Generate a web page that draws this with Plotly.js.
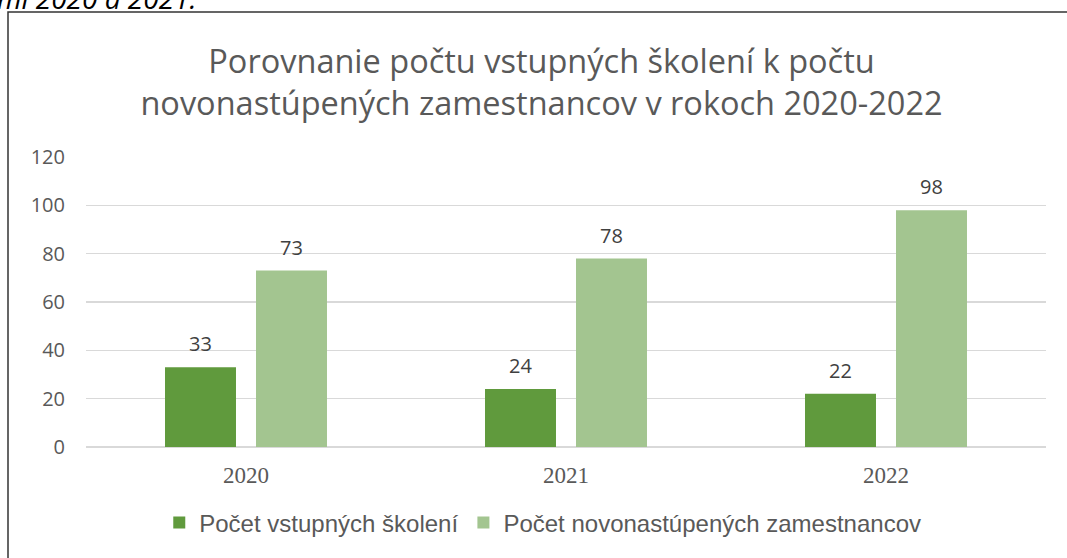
<!DOCTYPE html>
<html>
<head>
<meta charset="utf-8">
<script src="https://cdn.plot.ly/plotly-3.0.1.min.js"></script>
<style>html,body{margin:0;padding:0;background:#fff;}#chart{width:1067px;height:558px;}</style>
</head>
<body>
<div id="chart"></div>
<script>
const years = ['2020', '2021', '2022'];
const seriesNames = ['Počet vstupných školení', 'Počet novonastúpených zamestnancov'];
const trainings = [33, 24, 22];
const newEmployees = [73, 78, 98];
const yTicks = [0, 20, 40, 60, 80, 100, 120];
const titleText = 'Porovnanie počtu vstupných školení k počtu<br>novonastúpených zamestnancov v rokoch 2020-2022';
const captionText = 'mi 2020 a 2021.';

const darkGreen = '#609a3d';
const lightGreen = '#a3c590';

const traces = [
  {type: 'bar', name: seriesNames[0], x: years, y: trainings, marker: {color: darkGreen}, hoverinfo: 'none'},
  {type: 'bar', name: seriesNames[1], x: years, y: newEmployees, marker: {color: lightGreen}, hoverinfo: 'none'}
];

const labelFont = {family: 'Open Sans, sans-serif', size: 20, color: '#404040'};
const annotations = [];
[trainings, newEmployees].forEach((vals, si) => {
  vals.forEach((v, i) => {
    annotations.push({
      x: i, y: v, xref: 'x', yref: 'y', text: String(v), showarrow: false,
      xanchor: 'center', yanchor: 'bottom', xshift: si === 0 ? -45.5 : 45.5, yshift: 8,
      font: labelFont
    });
  });
});
annotations.push({
  x: -0.095, y: 1.476, xref: 'paper', yref: 'paper', xanchor: 'left', yanchor: 'bottom',
  text: '<i>' + captionText + '</i>', showarrow: false,
  font: {family: 'Open Sans, sans-serif', size: 28, color: '#000'}
});

const layout = {
  width: 1067, height: 558,
  margin: {l: 86, r: 21, t: 157, b: 111},
  paper_bgcolor: '#fff', plot_bgcolor: '#fff',
  title: {
    text: titleText,
    font: {family: 'Open Sans, sans-serif', size: 32.5, color: '#595959'},
    x: 541.5 / 1067, xanchor: 'center', xref: 'container',
    y: 1 - 73 / 558, yanchor: 'top', yref: 'container'
  },
  barmode: 'group', bargap: 0.43125, bargroupgap: 0.22,
  showlegend: true,
  legend: {
    orientation: 'h', x: 0.4758, xanchor: 'center', y: -0.262, yanchor: 'middle',
    font: {family: 'Liberation Sans, Arial, sans-serif', size: 24, color: '#595959'},
    traceorder: 'normal'
  },
  xaxis: {
    type: 'category', range: [-0.5, 2.5], showgrid: false, zeroline: false,
    showline: false, ticks: '',
    tickfont: {family: 'Liberation Serif, serif', size: 23, color: '#595959'},
    ticklabelstandoff: 12
  },
  yaxis: {
    range: [0, 120], tickvals: yTicks, showgrid: true, gridcolor: '#d9d9d9', gridwidth: 1.5,
    zeroline: true, zerolinecolor: '#d9d9d9', zerolinewidth: 1.5, showline: false, ticks: '',
    tickfont: {family: 'Open Sans, sans-serif', size: 20, color: '#595959'},
    ticklabelstandoff: 20
  },
  annotations: annotations,
  shapes: [{
    type: 'rect', xref: 'paper', yref: 'paper', x0: -0.08125, x1: 2, y0: -2, y1: 1.5,
    line: {color: '#333', width: 1.5}, fillcolor: 'rgba(0,0,0,0)', layer: 'below'
  }]
};

Plotly.newPlot('chart', traces, layout, {displayModeBar: false, staticPlot: true});
</script>
</body>
</html>
